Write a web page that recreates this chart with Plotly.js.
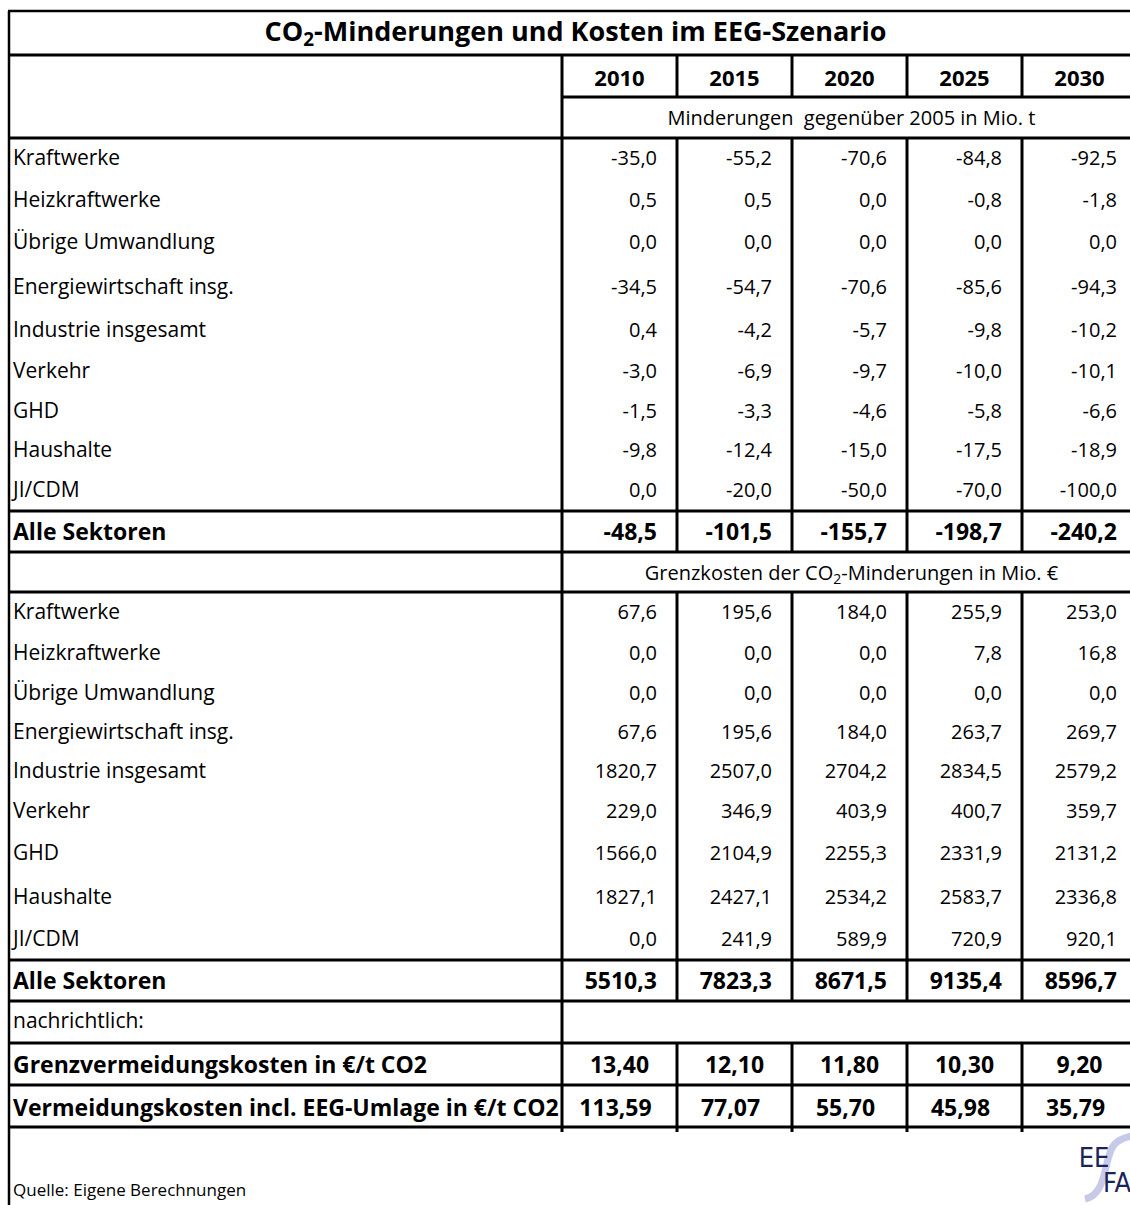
<!DOCTYPE html>
<html><head><meta charset="utf-8">
<script src="https://cdn.plot.ly/plotly-3.0.1.min.js"></script>
<style>html,body{margin:0;padding:0;background:#fff}#chart{width:1130px;height:1205px}</style>
</head><body><div id="chart"></div>
<script>
// ---------------- data ----------------
const years = ['2010', '2015', '2020', '2025', '2030'];
const sectors = ['Kraftwerke', 'Heizkraftwerke', 'Übrige Umwandlung', 'Energiewirtschaft insg.',
  'Industrie insgesamt', 'Verkehr', 'GHD', 'Haushalte', 'JI/CDM'];
const totalLabel = 'Alle Sektoren';
const mind2010 = [-35.0, 0.5, 0.0, -34.5, 0.4, -3.0, -1.5, -9.8, 0.0];
const mind2015 = [-55.2, 0.5, 0.0, -54.7, -4.2, -6.9, -3.3, -12.4, -20.0];
const mind2020 = [-70.6, 0.0, 0.0, -70.6, -5.7, -9.7, -4.6, -15.0, -50.0];
const mind2025 = [-84.8, -0.8, 0.0, -85.6, -9.8, -10.0, -5.8, -17.5, -70.0];
const mind2030 = [-92.5, -1.8, 0.0, -94.3, -10.2, -10.1, -6.6, -18.9, -100.0];
const mindTotal = [-48.5, -101.5, -155.7, -198.7, -240.2];
const kost2010 = [67.6, 0.0, 0.0, 67.6, 1820.7, 229.0, 1566.0, 1827.1, 0.0];
const kost2015 = [195.6, 0.0, 0.0, 195.6, 2507.0, 346.9, 2104.9, 2427.1, 241.9];
const kost2020 = [184.0, 0.0, 0.0, 184.0, 2704.2, 403.9, 2255.3, 2534.2, 589.9];
const kost2025 = [255.9, 7.8, 0.0, 263.7, 2834.5, 400.7, 2331.9, 2583.7, 720.9];
const kost2030 = [253.0, 16.8, 0.0, 269.7, 2579.2, 359.7, 2131.2, 2336.8, 920.1];
const kostTotal = [5510.3, 7823.3, 8671.5, 9135.4, 8596.7];
const grenzvermeidung = [13.40, 12.10, 11.80, 10.30, 9.20];
const vermeidungEEG = [113.59, 77.07, 55.70, 45.98, 35.79];
const titleText = 'CO<sub>2</sub>-Minderungen und Kosten im EEG-Szenario';
const sub1Text = 'Minderungen  gegenüber 2005 in Mio. t';
const sub2Text = 'Grenzkosten der CO<sub>2</sub>-Minderungen in Mio. €';
const noteLabel = 'nachrichtlich:';
const grenzLabel = 'Grenzvermeidungskosten in €/t CO2';
const vermLabel = 'Vermeidungskosten incl. EEG-Umlage in €/t CO2';
const sourceText = 'Quelle: Eigene Berechnungen';

// ---------------- layout geometry (pixel grid) ----------------
const W = 1130, H = 1205;
const leftX = 9, labelX = 13;
const colEdges = [562, 677, 792, 907, 1022, 1137];
const rowY1 = [158, 200, 242, 287, 330, 371, 411, 450, 490];
const rowY2 = [612, 653, 693, 732, 771, 811, 853, 897, 939];
const yTitle = 32, yYears = 78, ySub1 = 118, yTot1 = 532, ySub2 = 573, yTot2 = 981,
      yNote = 1021, yGrenz = 1065, yVerm = 1108, ySource = 1190;
const hLines = [55, 138, 511, 552, 592, 960, 1001, 1043, 1085, 1127];
const yTop = 11, yHdr = 97, yEnd = 1132;
const FONT = '"Open Sans", Lato, sans-serif';
const fsNum = 20, fsLab = 21, fsBold = 23, fsYear = 22, fsTitle = 27;
const dy = 2;

const fmt = (v, d) => v.toFixed(d).replace('.', ',');
const mindCols = [mind2010, mind2015, mind2020, mind2025, mind2030];
const kostCols = [kost2010, kost2015, kost2020, kost2025, kost2030];

const traces = [];
function textTrace(xs, ys, texts, pos, size, axis, color, family) {
  traces.push({
    type: 'scatter', mode: 'text', x: xs, y: ys.map(v => v + dy), text: texts,
    textposition: pos, xaxis: axis || 'x', yaxis: 'y', cliponaxis: true,
    textfont: {family: family || FONT, size: size, color: color || '#000'},
    hoverinfo: 'skip', showlegend: false
  });
}
const b = s => '<b>' + s + '</b>';

// labels (clipped at the first column line)
const regY = [], regT = [];
sectors.forEach((s, i) => { regY.push(rowY1[i]); regT.push(s); });
sectors.forEach((s, i) => { regY.push(rowY2[i]); regT.push(s); });
regY.push(yNote); regT.push(noteLabel);
textTrace(regY.map(() => labelX), regY, regT, 'middle right', fsLab, 'x2');
const boldY = [yTot1, yTot2, yGrenz, yVerm];
const boldT = [totalLabel, totalLabel, grenzLabel, vermLabel].map(b);
textTrace(boldY.map(() => labelX), boldY, boldT, 'middle right', fsBold, 'x2');

// title, years, subtitles
textTrace([(leftX + W) / 2 + 6], [yTitle], [b(titleText)], 'middle center', fsTitle);
const colMid = years.map((y, j) => (colEdges[j] + colEdges[j + 1]) / 2);
textTrace(colMid, years.map(() => yYears), years.map(b), 'middle center', fsYear);
const subX = (colEdges[0] + colEdges[5]) / 2 + 2;
textTrace([subX, subX], [ySub1, ySub2], [sub1Text, sub2Text], 'middle center', fsNum);

// numeric cells
years.forEach((y, j) => {
  const xr = colEdges[j + 1] - 20;
  const xs = [], ys = [], ts = [];
  mindCols[j].forEach((v, i) => { xs.push(xr); ys.push(rowY1[i]); ts.push(fmt(v, 1)); });
  kostCols[j].forEach((v, i) => { xs.push(xr); ys.push(rowY2[i]); ts.push(fmt(v, 1)); });
  textTrace(xs, ys, ts, 'middle left', fsNum);
  textTrace([xr, xr], [yTot1, yTot2], [b(fmt(mindTotal[j], 1)), b(fmt(kostTotal[j], 1))], 'middle left', fsBold);
});
textTrace(colMid, years.map(() => yGrenz), grenzvermeidung.map(v => b(fmt(v, 2))), 'middle center', fsBold);
textTrace(colMid.map((x, j) => x - 4), years.map(() => yVerm), vermeidungEEG.map(v => b(fmt(v, 2))), 'middle center', fsBold);

// source + logo text
textTrace([labelX], [ySource], [sourceText], 'middle right', 17);
const LOGOFONT = '"DejaVu Sans Condensed", "Roboto Condensed", Roboto, sans-serif';
textTrace([1094], [1158], ['EE'], 'middle center', 27, 'x', '#1c2357', LOGOFONT);
textTrace([1117], [1183], ['FA'], 'middle center', 27, 'x', '#1c2357', LOGOFONT);

// ---------------- grid lines ----------------
const shapes = [];
const ln = (x0, y0, x1, y1, w) => shapes.push({type: 'line', xref: 'x', yref: 'y', x0, y0, x1, y1,
  line: {color: '#000', width: w || 3}, layer: 'above'});
ln(leftX - 1, yTop, W, yTop, 2.5);
ln(leftX, yTop, leftX, H, 2.5);
hLines.forEach(y => ln(leftX, y, W, y, 3));
ln(colEdges[0], yHdr, W, yHdr, 3);
ln(colEdges[0], hLines[0], colEdges[0], yEnd, 3);
colEdges.slice(1, 5).forEach(x => {
  ln(x, hLines[0], x, yHdr);
  ln(x, hLines[1], x, hLines[3]);
  ln(x, hLines[4], x, hLines[6]);
  ln(x, hLines[7], x, yEnd);
});
// logo swoosh
shapes.push({type: 'path', xref: 'x', yref: 'y', layer: 'below',
  path: 'M 1085 1199 C 1100 1196, 1103 1180, 1107 1163 S 1114 1140, 1132 1136',
  line: {color: '#c6cae8', width: 7}});

const layout = {
  width: W, height: H, margin: {l: 0, r: 0, t: 0, b: 0, pad: 0},
  paper_bgcolor: '#fff', plot_bgcolor: 'rgba(0,0,0,0)', showlegend: false, hovermode: false,
  xaxis: {range: [0, W], domain: [0, 1], visible: false, fixedrange: true},
  xaxis2: {range: [0, colEdges[0] - 1], domain: [0, (colEdges[0] - 1) / W], anchor: 'y', visible: false, fixedrange: true},
  yaxis: {range: [H, 0], domain: [0, 1], visible: false, fixedrange: true},
  shapes: shapes
};
Plotly.newPlot('chart', traces, layout, {displayModeBar: false, staticPlot: true});
</script>
</body></html>
